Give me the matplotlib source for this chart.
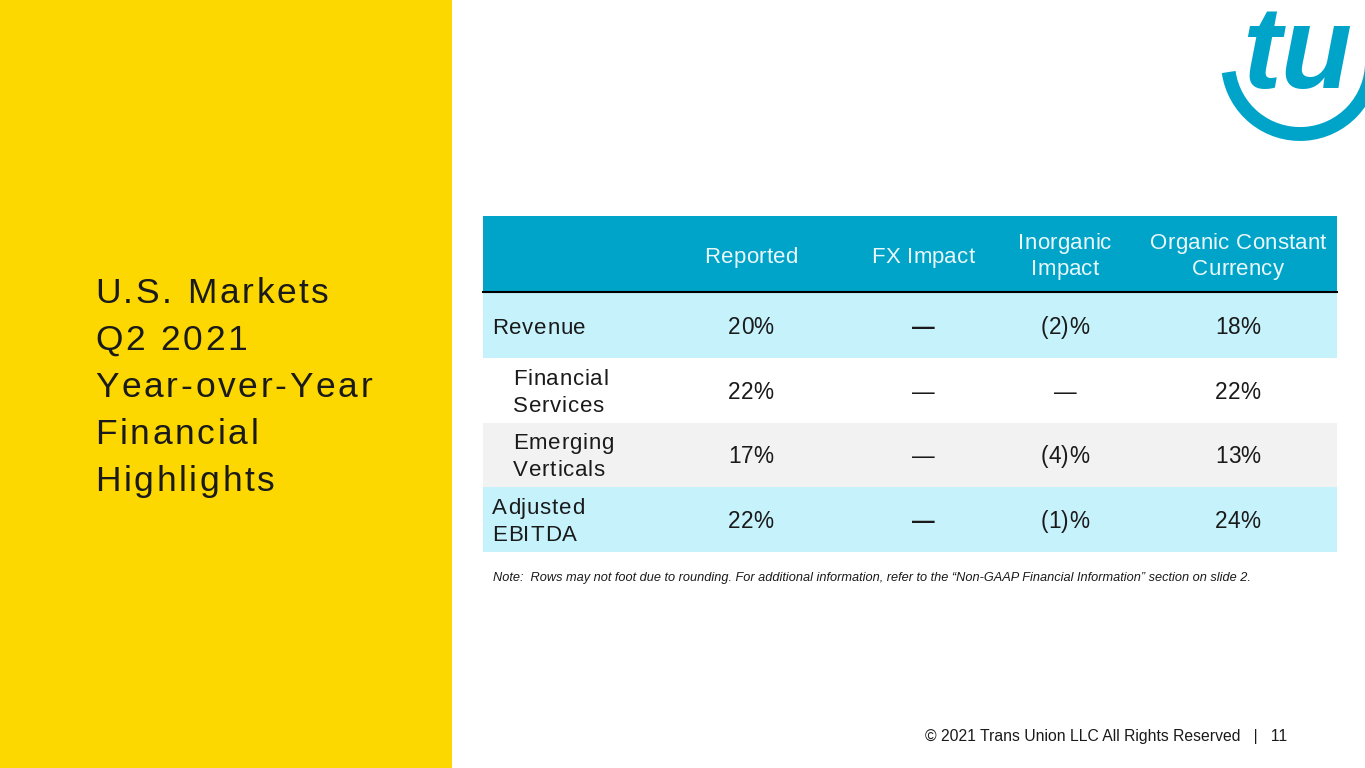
import matplotlib.pyplot as plt
import matplotlib.patches as mpatches
from matplotlib.font_manager import FontProperties, findfont, get_font

plt.rcParams['font.family'] = ['Liberation Sans', 'DejaVu Sans']

# table content
title = ['U.S. Markets', 'Q2 2021', 'Year-over-Year', 'Financial', 'Highlights']
col_labels = ['Reported', 'FX Impact', 'Inorganic\nImpact', 'Organic Constant\nCurrency']
row_labels = ['Revenue', 'Financial\nServices', 'Emerging\nVerticals', 'Adjusted\nEBITDA']
reported = ['20%', '22%', '17%', '22%']
fx_impact = ['\u2014', '\u2014', '\u2014', '\u2014']
inorganic = ['(2)%', '\u2014', '(4)%', '(1)%']
organic = ['18%', '22%', '13%', '24%']
note = ('Note:  Rows may not foot due to rounding. For additional information, refer to the '
        '\u201cNon-GAAP Financial Information\u201d section on slide 2.')
footer = '\u00a9 2021 Trans Union LLC All Rights Reserved   |   11'

YELLOW = '#FCD800'
BLUE = '#00A4C9'
CYAN = '#C6F2FC'
GREY = '#F2F2F2'
TXT = '#1A1A1A'
DPI = 100


def spaced(ax, x, y, s, size, track, ha='left', weight='normal', color=TXT):
    # draw one line char by char so letter spacing can be added
    prop = FontProperties(family='Liberation Sans', weight=weight, size=size)
    font = get_font(findfont(prop))
    font.set_size(size, DPI)
    advs = [font.load_char(ord(c)).linearHoriAdvance / 65536 for c in s]
    width = sum(advs) + track * (len(s) - 1)
    if ha == 'center':
        x = x - width / 2
    elif ha == 'right':
        x = x - width
    for c, a in zip(s, advs):
        if c != ' ':
            ax.text(x, y, c, fontproperties=prop, color=color,
                    ha='left', va='baseline')
        x += a + track


fig = plt.figure(figsize=(13.65, 7.68), dpi=DPI)
ax = fig.add_axes([0, 0, 1, 1])
ax.set_xlim(0, 1365)
ax.set_ylim(768, 0)
ax.axis('off')

# left yellow panel + title
ax.add_patch(mpatches.Rectangle((0, 0), 452, 768, color=YELLOW, lw=0))
for k, line in enumerate(title):
    spaced(ax, 95, 303 + k * 47, line, 25.5, 2.7)

# logo
ax.add_patch(mpatches.Arc((1300, 62), 144, 144, theta1=0, theta2=172,
                          color=BLUE, lw=10))
ax.text(1242, 88, 'tu', fontsize=84, color=BLUE, fontweight='bold',
        fontstyle='italic', va='baseline', ha='left')

# table geometry
x0, x1 = 483, 1337
head_top, head_bot = 216, 292
row_h = (552 - 293) / 4
col_x = [751, 923, 1065, 1238]
row_colors = [CYAN, 'white', GREY, CYAN]
indent = [False, True, True, False]
bold_dash = [True, False, False, True]

ax.add_patch(mpatches.Rectangle((x0, head_top), x1 - x0, head_bot - head_top,
                                color=BLUE, lw=0))
hc = (head_top + head_bot) / 2
for cx, lab in zip(col_x, col_labels):
    lines = lab.split('\n')
    if len(lines) == 1:
        spaced(ax, cx, hc + 9, lines[0], 16, 0.2, ha='center', color='#EAF8FC')
    else:
        for k, ln in enumerate(lines):
            spaced(ax, cx, hc - 5 + 26 * k, ln, 16, 0.2, ha='center', color='#EAF8FC')
ax.plot([x0, x1], [head_bot, head_bot], color='black', lw=1.5)

values = [reported, fx_impact, inorganic, organic]
for i, lab in enumerate(row_labels):
    top = 293 + i * row_h
    ax.add_patch(mpatches.Rectangle((x0, top), x1 - x0, row_h,
                                    color=row_colors[i], lw=0))
    yc = top + row_h / 2
    lx = 513 if indent[i] else 492
    lines = lab.split('\n')
    if len(lines) == 1:
        spaced(ax, lx, yc + 8.5, lines[0], 16, 0.8)
    else:
        for k, ln in enumerate(lines):
            spaced(ax, lx, yc - 5.5 + 27 * k, ln, 16, 0.8)
    for j, cx in enumerate(col_x):
        v = values[j][i]
        w = 'bold' if (v == '\u2014' and bold_dash[i]) else 'normal'
        spaced(ax, cx, yc + 8.5, v, 16.3, 0.2, ha='center', weight=w)

ax.text(493, 578, note, fontsize=9.2, fontstyle='italic', color=TXT,
        ha='left', va='center')
ax.text(1287, 736, footer, fontsize=11.3, color=TXT, ha='right', va='center')

fig.savefig('out.png', dpi=DPI)
